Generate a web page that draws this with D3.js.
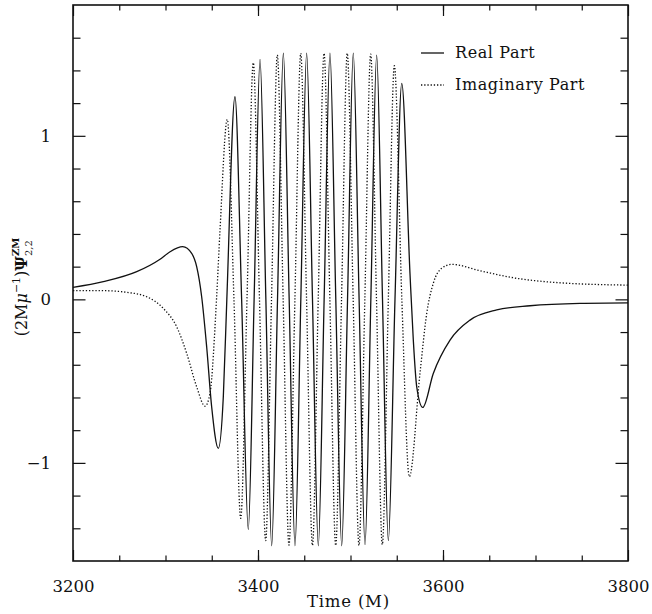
<!DOCTYPE html>
<html lang="en">

<head>
  <meta charset="utf-8">
  <title>Waveform</title>
  <script src="https://d3js.org/d3.v7.min.js"></script>
</head>

<body style="margin:0;background:#fff">
  <div id="chart"></div>

  <style>
    #chart text {
      font-family: "DejaVu Serif", serif;
      fill: #111;
    }
    #chart .tick line { stroke: #111; stroke-width: 1.2px; }
    #chart .domain { display: none; }
  </style>

  <script type="text/javascript">
    "use strict"

    // time (M) and value pairs
    var realPart = [
      [3200, 0.073], [3232.8, 0.108], [3268.9, 0.169], [3294.1, 0.245], [3304.9, 0.291],
      [3318.6, 0.322], [3328.3, 0.281], [3333.7, 0.20], [3339.1, 0.016], [3344.5, -0.29],
      [3349.9, -0.657], [3357.1, -0.911], [3362.5, -0.596], [3366.3, 0], [3375.1, 1.239],
      [3382.3, 0], [3389.5, -1.407], [3395.8, 0], [3402.2, 1.468], [3408.5, 0],
      [3414.8, -1.507], [3421.1, 0], [3427.4, 1.505], [3433.7, 0], [3440.0, -1.507],
      [3446.3, 0], [3452.6, 1.506], [3458.9, 0], [3465.2, -1.507], [3471.5, 0],
      [3477.8, 1.506], [3484.1, 0], [3490.5, -1.507], [3496.8, 0], [3503.0, 1.506],
      [3509.3, 0], [3515.7, -1.50], [3522.0, 0], [3528.3, 1.494], [3534.6, 0],
      [3540.9, -1.476], [3548.1, 0], [3555.4, 1.321], [3564.3, 0.159], [3567.9, -0.249],
      [3571.6, -0.535], [3578.1, -0.661], [3589.5, -0.453], [3607.6, -0.249], [3629.2, -0.127],
      [3658.1, -0.065], [3694.1, -0.039], [3748.1, -0.024], [3800, -0.021]
    ];

    var imagPart = [
      [3200, 0.053], [3232.8, 0.053], [3258, 0.043], [3279.6, 0.016], [3297.6, -0.055],
      [3312.1, -0.168], [3322.9, -0.33], [3333.7, -0.535], [3342.7, -0.653], [3348.1, -0.575],
      [3355.3, 0.016], [3358.9, 0.42], [3366.8, 1.10], [3374.0, 0], [3381.3, -1.339],
      [3388.1, 0], [3394.9, 1.447], [3401.6, 0], [3408.3, -1.476], [3414.6, 0],
      [3420.9, 1.494], [3427.2, 0], [3433.5, -1.503], [3439.9, 0], [3446.2, 1.505],
      [3452.5, 0], [3458.9, -1.505], [3465.1, 0], [3471.4, 1.505], [3477.7, 0],
      [3484.0, -1.505], [3490.3, 0], [3496.5, 1.505], [3502.9, 0], [3509.2, -1.505],
      [3515.5, 0], [3521.8, 1.50], [3528.1, 0], [3534.4, -1.50], [3540.9, 0],
      [3547.4, 1.429], [3555.5, 0], [3563.6, -1.085], [3575.1, -0.453], [3582.4, -0.086],
      [3589.5, 0.098], [3598.6, 0.19], [3609.4, 0.214], [3640, 0.175], [3676, 0.132],
      [3730, 0.10], [3800, 0.087]
    ];

    var xMajor = [3200, 3400, 3600, 3800];
    var xMinor = d3.range(3250, 3800, 50);
    var yMajor = [-1, 0, 1];
    var yMinor = [-1.4, -1.2, -0.8, -0.6, -0.4, -0.2, 0.2, 0.4, 0.6, 0.8, 1.2, 1.4, 1.6];
    var seriesNames = ["Real Part", "Imaginary Part"];

    var larguraSVG = 652, alturaSVG = 614;
    var margin = {top: 5, right: 24, bottom: 53, left: 73},
        w = larguraSVG - margin.left - margin.right,
        h = alturaSVG - margin.top - margin.bottom;

    var x = d3.scaleLinear().domain([3200, 3800]).range([0, w]);
    var y = d3.scaleLinear().domain([-1.6, 1.8]).range([h, 0]);

    var svg = d3.select('#chart').append('svg')
      .attr('width', larguraSVG)
      .attr('height', alturaSVG);

    var g = svg.append('g')
      .attr('transform', 'translate(' + margin.left + ',' + margin.top + ')');

    // ticks pointing inward on all four sides
    function fmt(d) { return d < 0 ? '\u2212' + Math.abs(d) : '' + d; }

    g.append('g').attr('transform', 'translate(0,' + h + ')')
      .call(d3.axisBottom(x).tickValues(xMajor).tickSize(-11).tickPadding(19).tickFormat(fmt))
      .selectAll('text').style('font-size', '16.5px');
    g.append('g').attr('transform', 'translate(0,' + h + ')')
      .call(d3.axisBottom(x).tickValues(xMinor).tickSize(-5.5).tickFormat(''));
    g.append('g')
      .call(d3.axisTop(x).tickValues(xMajor).tickSize(-11).tickFormat(''));
    g.append('g')
      .call(d3.axisTop(x).tickValues(xMinor).tickSize(-5.5).tickFormat(''));

    g.append('g')
      .call(d3.axisLeft(y).tickValues(yMajor).tickSize(-12.5).tickPadding(22).tickFormat(fmt))
      .selectAll('text').style('font-size', '16.5px');
    g.append('g')
      .call(d3.axisLeft(y).tickValues(yMinor).tickSize(-7.5).tickFormat(''));
    g.append('g').attr('transform', 'translate(' + w + ',0)')
      .call(d3.axisRight(y).tickValues(yMajor).tickSize(-12.5).tickFormat(''));
    g.append('g').attr('transform', 'translate(' + w + ',0)')
      .call(d3.axisRight(y).tickValues(yMinor).tickSize(-7.5).tickFormat(''));

    g.append('rect')
      .attr('width', w).attr('height', h)
      .attr('fill', 'none').attr('stroke', '#111').attr('stroke-width', 1.6);

    var linha = d3.line()
      .x(d => x(d[0]))
      .y(d => y(d[1]))
      .curve(d3.curveMonotoneX);

    g.append('path').datum(imagPart)
      .attr('d', linha)
      .attr('fill', 'none').attr('stroke', '#111').attr('stroke-width', 1.3)
      .attr('stroke-dasharray', '1.3,1.9');

    g.append('path').datum(realPart)
      .attr('d', linha)
      .attr('fill', 'none').attr('stroke', '#111').attr('stroke-width', 1.3);

    // legend
    var leg = g.append('g').attr('transform', 'translate(' + (421 - margin.left) + ',0)');
    seriesNames.forEach(function (nome, i) {
      var yy = 48 + i * 32;
      leg.append('line')
        .attr('x1', 0).attr('x2', 23).attr('y1', yy).attr('y2', yy)
        .attr('stroke', '#111').attr('stroke-width', 1.3)
        .attr('stroke-dasharray', i ? '1.3,1.9' : null);
      leg.append('text')
        .attr('x', 34).attr('y', yy + 5)
        .style('font-size', '16px')
        .style('letter-spacing', '0.6px')
        .text(nome);
    });

    // axis titles
    svg.append('text')
      .attr('x', margin.left + w / 2 - 2).attr('y', 607)
      .attr('text-anchor', 'middle')
      .style('font-size', '16.5px')
      .style('letter-spacing', '0.8px')
      .text('Time (M)');

    var yt = svg.append('text')
      .attr('transform', 'translate(27,287) rotate(-90)')
      .attr('text-anchor', 'middle')
      .style('font-size', '16px');
    yt.append('tspan').text('(2M');
    yt.append('tspan').style('font-style', 'italic').text('\u03bc');
    yt.append('tspan').attr('dy', -7).style('font-size', '11px').text('\u22121');
    yt.append('tspan').attr('dy', 7).text(')');
    yt.append('tspan').style('font-weight', 'bold').text('\u03a8');
    var sup = yt.append('tspan').attr('dy', -8).style('font-size', '10px').style('font-weight', 'bold').text('ZM');
    var supW = sup.node().getComputedTextLength();
    yt.append('tspan').attr('dx', -supW).attr('dy', 13).style('font-size', '10px').text('2,2');
  </script>
</body>

</html>
